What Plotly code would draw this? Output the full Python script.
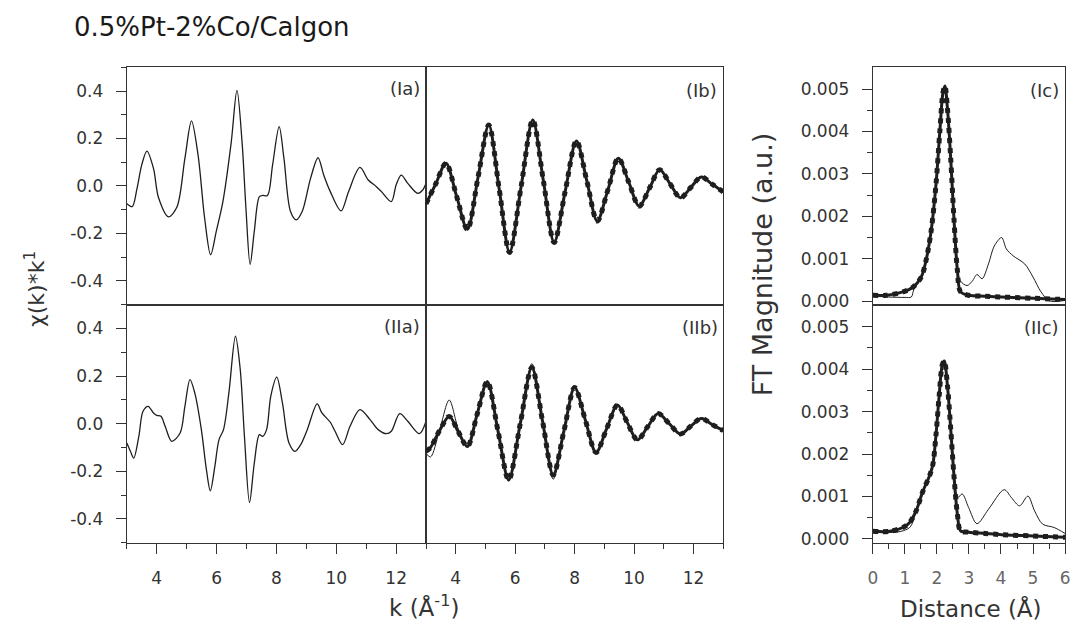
import plotly.graph_objects as go

# ---------------- data ----------------
# (Ia) experimental chi(k)*k, sample I
ia_k = [3.0, 3.18, 3.34, 3.5, 3.67, 3.89, 4.06, 4.39, 4.67, 4.94, 5.16, 5.38, 5.6, 5.8, 5.99,
        6.21, 6.49, 6.68, 6.85, 6.98, 7.12, 7.26, 7.43, 7.54, 7.70, 7.87, 8.09, 8.25, 8.47, 8.66,
        8.86, 9.14, 9.39, 9.58, 9.80, 10.16, 10.41, 10.79, 11.07, 11.34, 11.51, 11.84, 12.0,
        12.17, 12.39, 12.72, 12.89, 13.0]
ia_v = [-0.075, -0.087, -0.01, 0.09, 0.147, 0.074, -0.05, -0.13, -0.09, 0.116, 0.274, 0.13,
        -0.136, -0.29, -0.19, -0.066, 0.186, 0.403, 0.186, -0.094, -0.331, -0.19, -0.045,
        -0.04, -0.04, 0.088, 0.25, 0.116, -0.108, -0.143, -0.108, 0.032, 0.119, 0.046, -0.024,
        -0.105, -0.024, 0.078, 0.025, -0.003, -0.024, -0.066, 0.004, 0.046, 0.011, -0.031,
        -0.017, 0.011]

# (IIa) experimental chi(k)*k, sample II
iia_k = [3.0, 3.12, 3.23, 3.40, 3.54, 3.71, 3.89, 4.0, 4.14, 4.28, 4.5, 4.78, 4.94, 5.11, 5.27,
         5.49, 5.66, 5.79, 5.94, 6.08, 6.23, 6.41, 6.63, 6.79, 6.93, 7.10, 7.26, 7.43, 7.54,
         7.67, 7.81, 8.01, 8.2, 8.42, 8.62, 8.81, 9.03, 9.36, 9.52, 9.80, 9.96, 10.21, 10.46,
         10.79, 11.13, 11.40, 11.68, 11.84, 12.12, 12.39, 12.78, 13.0]
iia_v = [-0.081, -0.116, -0.144, -0.053, 0.052, 0.073, 0.045, 0.035, 0.031, -0.011, -0.074,
         -0.039, 0.073, 0.185, 0.129, -0.025, -0.194, -0.282, -0.18, -0.067, -0.025, 0.129,
         0.367, 0.227, -0.053, -0.331, -0.165, -0.046, -0.053, -0.025, 0.115, 0.195, 0.087,
         -0.081, -0.116, -0.088, -0.025, 0.083, 0.045, 0.006, -0.032, -0.088, -0.011, 0.059,
         0.017, -0.025, -0.042, -0.032, 0.042, 0.01, -0.042, 0.01]

# (Ib) filtered data and fit
ib_k = [3.0, 3.33, 3.67, 4.03, 4.39, 4.75, 5.11, 5.46, 5.81, 6.20, 6.59, 6.95, 7.31, 7.68,
        8.06, 8.41, 8.76, 9.12, 9.47, 9.82, 10.17, 10.52, 10.86, 11.21, 11.56, 11.91, 12.26,
        12.63, 13.0]
ib_exp = [-0.075, 0.01, 0.098, -0.044, -0.183, 0.037, 0.26, -0.012, -0.28, -0.001, 0.282,
          0.02, -0.238, -0.024, 0.19, 0.021, -0.148, -0.016, 0.117, 0.016, -0.085, -0.009,
          0.068, 0.009, -0.05, -0.006, 0.04, 0.007, -0.025]
ib_fit = [-0.075, 0.01, 0.096, -0.044, -0.183, 0.037, 0.257, -0.012, -0.28, -0.001, 0.278,
          0.02, -0.238, -0.024, 0.19, 0.021, -0.148, -0.016, 0.117, 0.016, -0.085, -0.009,
          0.068, 0.009, -0.05, -0.006, 0.038, 0.007, -0.025]

# (IIb) filtered data and fit
iib_k = [3.0, 3.15, 3.45, 3.78, 4.08, 4.39, 4.72, 5.06, 5.42, 5.78, 6.17, 6.56, 6.92, 7.28,
         7.64, 8.0, 8.36, 8.72, 9.08, 9.44, 9.77, 10.11, 10.46, 10.81, 11.18, 11.56, 11.91,
         12.26, 12.63, 13.0]
iib_exp = [-0.125, -0.14, -0.03, 0.099, -0.02, -0.096, 0.04, 0.18, -0.03, -0.24, 0.0, 0.252,
           0.012, -0.233, -0.03, 0.155, 0.015, -0.121, -0.02, 0.078, 0.005, -0.068, -0.012,
           0.045, 0.0, -0.043, -0.01, 0.025, -0.004, -0.029]
iib_fit = [-0.115, -0.1, -0.03, 0.03, -0.033, -0.096, 0.04, 0.176, -0.03, -0.236, 0.0, 0.236,
           0.01, -0.215, -0.03, 0.152, 0.015, -0.121, -0.02, 0.078, 0.005, -0.068, -0.012,
           0.043, 0.0, -0.043, -0.01, 0.022, -0.004, -0.029]

# (Ic) FT magnitude, data and fit
ic_r_exp = [0.0, 0.5, 1.0, 1.2, 1.28, 1.51, 1.66, 1.82, 1.97, 2.09, 2.19, 2.25, 2.33, 2.43,
            2.53, 2.64, 2.72, 2.94, 3.1, 3.25, 3.41, 3.61, 3.79, 4.02, 4.17, 4.38, 4.74, 5.0,
            5.25, 5.51, 6.0]
ic_exp = [0.00012, 0.0001, 0.00009, 0.0001, 0.00028, 0.00057, 0.00096, 0.00166, 0.00274,
          0.00399, 0.00492, 0.00507, 0.00453, 0.00337, 0.00197, 0.00085, 0.00049, 0.00037,
          0.00047, 0.00063, 0.00053, 0.00088, 0.0013, 0.0015, 0.00123, 0.00107, 0.00088,
          0.00057, 0.00022, 0.00001, 0.00002]
ic_r_fit = [0.0, 0.43, 0.94, 1.25, 1.51, 1.66, 1.82, 1.97, 2.09, 2.19, 2.25, 2.33, 2.43, 2.53,
            2.64, 2.74, 2.99, 3.5, 4.02, 5.0, 6.0]
ic_fit = [0.00014, 0.00014, 0.00022, 0.00033, 0.00057, 0.00096, 0.00166, 0.00274, 0.00399,
          0.00492, 0.00507, 0.00453, 0.00337, 0.00197, 0.00072, 0.00022, 0.00014, 0.00012,
          0.0001, 0.00007, 0.00004]

# (IIc) FT magnitude, data and fit
iic_r_exp = [0.0, 0.74, 1.15, 1.35, 1.56, 1.76, 1.87, 1.97, 2.07, 2.17, 2.23, 2.33, 2.43, 2.53,
             2.64, 2.79, 2.99, 3.25, 3.61, 4.1, 4.33, 4.58, 4.84, 5.05, 5.3, 5.66, 6.0]
iic_exp = [0.00018, 0.00016, 0.00027, 0.00066, 0.00112, 0.00147, 0.00174, 0.00244, 0.00337,
           0.00411, 0.00419, 0.0036, 0.0026, 0.0017, 0.00097, 0.00106, 0.00074, 0.00036,
           0.0007, 0.00116, 0.00097, 0.00078, 0.00101, 0.00066, 0.00035, 0.00027, 0.00013]
iic_r_fit = [0.0, 0.53, 0.94, 1.15, 1.35, 1.56, 1.76, 1.87, 1.97, 2.07, 2.17, 2.23, 2.33, 2.43,
             2.53, 2.64, 2.74, 2.99, 3.5, 4.02, 5.0, 6.0]
iic_fit = [0.00018, 0.00018, 0.00027, 0.00039, 0.00066, 0.00112, 0.00147, 0.00174, 0.00244,
           0.00337, 0.00411, 0.00419, 0.0036, 0.0026, 0.00151, 0.00058, 0.00019, 0.00016,
           0.00013, 0.0001, 0.00007, 0.00004]

chi_ticks = [-0.4, -0.2, 0.0, 0.2, 0.4]
chi_ticktext = ["-0.4", "-0.2", "0.0", "0.2", "0.4"]
chi_minor = [-0.5, -0.3, -0.1, 0.1, 0.3, 0.5]
k_ticks = [4, 6, 8, 10, 12]
k_minor = [3, 5, 7, 9, 11, 13]
ft_ticks = [0.0, 0.001, 0.002, 0.003, 0.004, 0.005]
ft_ticktext = ["0.000", "0.001", "0.002", "0.003", "0.004", "0.005"]
ft_minor = [0.0005, 0.0015, 0.0025, 0.0035, 0.0045]
r_ticks = [0, 1, 2, 3, 4, 5, 6]
r_minor = [0.5, 1.5, 2.5, 3.5, 4.5, 5.5]

title_text = "0.5%Pt-2%Co/Calgon"
panel_labels = ["(Ia)", "(Ib)", "(Ic)", "(IIa)", "(IIb)", "(IIc)"]

# ---------------- figure ----------------
W, H = 1075, 630
FONT = "DejaVu Sans"
INK = "#1e1e1e"
AX = "#333333"

fig = go.Figure()


def thin(x, y, xa, ya, w=1.3):
    fig.add_trace(go.Scatter(x=x, y=y, xaxis=xa, yaxis=ya, mode="lines",
                             line=dict(color=INK, width=w, shape="spline", smoothing=0.9),
                             showlegend=False, hoverinfo="skip"))


def fit(x, y, xa, ya):
    fig.add_trace(go.Scatter(x=x, y=y, xaxis=xa, yaxis=ya, mode="lines",
                             line=dict(color=INK, width=3.0, shape="spline", smoothing=0.9),
                             showlegend=False, hoverinfo="skip"))
    fig.add_trace(go.Scatter(x=x, y=y, xaxis=xa, yaxis=ya, mode="lines",
                             line=dict(color=INK, width=5.0, shape="spline", smoothing=0.9,
                                       dash="dot"),
                             showlegend=False, hoverinfo="skip"))


thin(ia_k, ia_v, "x", "y")
thin(ib_k, ib_exp, "x2", "y2", 1.0)
fit(ib_k, ib_fit, "x2", "y2")
thin(ic_r_exp, ic_exp, "x3", "y3", 1.0)
fit(ic_r_fit, ic_fit, "x3", "y3")
thin(iia_k, iia_v, "x4", "y4")
thin(iib_k, iib_exp, "x5", "y5", 1.0)
fit(iib_k, iib_fit, "x5", "y5")
thin(iic_r_exp, iic_exp, "x6", "y6", 1.0)
fit(iic_r_fit, iic_fit, "x6", "y6")


def px_x(a, b):
    return [a / W, b / W]


def px_y(top, bot):
    return [1 - bot / H, 1 - top / H]


dom_a, dom_b, dom_c = px_x(123, 425), px_x(425, 725), px_x(876, 1070)
dom_top, dom_bot = px_y(68, 307.5), px_y(307.5, 548)

base = dict(showline=True, mirror=True, linecolor=AX, linewidth=1.3, showgrid=False,
            zeroline=False, tickcolor=AX, tickwidth=1.2,
            tickfont=dict(family=FONT, size=17, color="#333"))
nolab = dict(ticks="", showticklabels=False)

k_range = [3, 13]
chi_range = [-0.5, 0.5]
r_range = [0, 6]
ft_range = [-0.00009, 0.00551]

y_chi = dict(tickmode="array", tickvals=chi_ticks, ticktext=chi_ticktext, ticks="outside",
             ticklen=10, ticklabelstandoff=9,
             minor=dict(tickmode="array", tickvals=chi_minor, ticks="outside", ticklen=5,
                        tickcolor=AX, tickwidth=1.2))
y_ft = dict(tickmode="array", tickvals=ft_ticks, ticktext=ft_ticktext, ticks="outside",
            ticklen=10, ticklabelstandoff=9,
            minor=dict(tickmode="array", tickvals=ft_minor, ticks="outside", ticklen=5,
                       tickcolor=AX, tickwidth=1.2))
x_k = dict(tickmode="array", tickvals=k_ticks, ticktext=[str(t) for t in k_ticks],
           ticks="outside", ticklen=10, ticklabelstandoff=10,
           minor=dict(tickmode="array", tickvals=k_minor, ticks="outside", ticklen=5,
                      tickcolor=AX, tickwidth=1.2))
x_r = dict(tickmode="array", tickvals=r_ticks, ticktext=[str(t) for t in r_ticks],
           ticks="outside", ticklen=10, ticklabelstandoff=10, ticklabeloverflow="allow",
           tickfont=dict(family=FONT, size=17, color="#666"),
           minor=dict(tickmode="array", tickvals=r_minor, ticks="outside", ticklen=5,
                      tickcolor=AX, tickwidth=1.2))

fig.update_layout(
    width=W, height=H, margin=dict(l=0, r=0, t=0, b=0),
    paper_bgcolor="white", plot_bgcolor="white", showlegend=False,
    font=dict(family=FONT, color="#222"),
    xaxis={**base, **nolab, "domain": dom_a, "range": k_range, "anchor": "y"},
    yaxis={**base, **y_chi, "domain": dom_top, "range": chi_range, "anchor": "x"},
    xaxis2={**base, **nolab, "domain": dom_b, "range": k_range, "anchor": "y2"},
    yaxis2={**base, **nolab, "domain": dom_top, "range": chi_range, "anchor": "x2"},
    xaxis3={**base, **nolab, "domain": dom_c, "range": r_range, "anchor": "y3"},
    yaxis3={**base, **y_ft, "domain": px_y(68, 308), "range": ft_range, "anchor": "x3"},
    xaxis4={**base, **x_k, "domain": dom_a, "range": k_range, "anchor": "y4"},
    yaxis4={**base, **y_chi, "domain": dom_bot, "range": chi_range, "anchor": "x4"},
    xaxis5={**base, **x_k, "domain": dom_b, "range": k_range, "anchor": "y5"},
    yaxis5={**base, **nolab, "domain": dom_bot, "range": chi_range, "anchor": "x5"},
    xaxis6={**base, **x_r, "domain": dom_c, "range": r_range, "anchor": "y6"},
    yaxis6={**base, **y_ft, "domain": px_y(308, 548), "range": ft_range, "anchor": "x6"},
)

ann = []
ann.append(dict(text=title_text, x=68 / W, y=1 - 27 / H, xref="paper", yref="paper",
                xanchor="left", yanchor="middle", showarrow=False,
                font=dict(family=FONT, size=26, color="#1a1a1a")))
label_pos = [(421, 89), (721, 91), (1066, 91), (421, 330), (722, 331), (1066, 331)]
for txt, (lx, ly) in zip(panel_labels, label_pos):
    ann.append(dict(text=txt, x=lx / W, y=1 - ly / H, xref="paper", yref="paper",
                    xanchor="right", yanchor="middle", showarrow=False,
                    font=dict(family=FONT, size=18, color="#333")))
ann.append(dict(text="χ(k)*k<sup>1</sup>", x=30 / W, y=1 - 292 / H, xref="paper",
                yref="paper", textangle=-90, showarrow=False, xanchor="center",
                yanchor="middle", font=dict(family=FONT, size=22, color="#333")))
ann.append(dict(text="k (Å<sup>-1</sup>)", x=423 / W, y=1 - 612 / H, xref="paper",
                yref="paper", showarrow=False, xanchor="center", yanchor="middle",
                font=dict(family=FONT, size=23, color="#333")))
ann.append(dict(text="FT Magnitude (a.u.)", x=765 / W, y=1 - 267 / H, xref="paper",
                yref="paper", textangle=-90, showarrow=False, xanchor="center",
                yanchor="middle", font=dict(family=FONT, size=27, color="#333")))
ann.append(dict(text="Distance (Å)", x=975 / W, y=1 - 614 / H, xref="paper",
                yref="paper", showarrow=False, xanchor="center", yanchor="middle",
                font=dict(family=FONT, size=23, color="#333")))
fig.update_layout(annotations=ann)

fig.write_html("out.html")
